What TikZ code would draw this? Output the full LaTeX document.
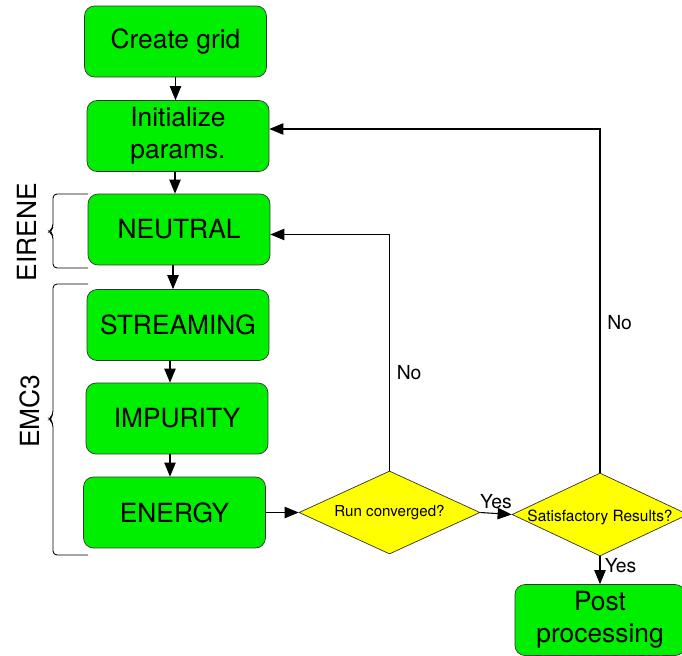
\documentclass[tikz,border=0pt]{standalone}
\usepackage{fontspec}
\setmainfont{TeX Gyre Heros}
\usetikzlibrary{shapes.geometric,arrows.meta}
\definecolor{boxgreen}{RGB}{0,238,0}
\definecolor{diayellow}{RGB}{255,255,0}
\tikzset{
  stepbox/.style={draw=black!80,fill=boxgreen,rounded corners=0.2cm,
    minimum width=3.64cm,minimum height=1.42cm,inner sep=0pt,align=center,
    font=\fontsize{15}{18}\selectfont},
  decision/.style={draw=black!80,fill=diayellow,diamond,inner sep=0pt},
  flow/.style={-{Triangle[length=8pt,width=6.5pt]},line width=0.6pt},
  lbl/.style={font=\fontsize{11}{13}\selectfont,inner sep=1pt}
}
\begin{document}
\begin{tikzpicture}[x=0.02cm,y=-0.02cm]
         \useasboundingbox (0,0) rectangle (682,655) ;
         % boxes
         \node[stepbox] (grid) at (175.5,41.5) {Create grid} ;
         \node[stepbox] (init) at (178,136) {Initialize\\params.} ;
         \node[stepbox] (neutral) at (179,229.5) {NEUTRAL} ;
         \node[stepbox] (stream) at (178,325) {STREAMING} ;
         \node[stepbox] (impur) at (177,418.5) {IMPURITY} ;
         \node[stepbox] (energy) at (174.5,512.5) {ENERGY} ;
         \node[stepbox,minimum width=3.4cm] (post) at (600,620) {Post\\processing} ;
         % decisions
         \node[decision,minimum width=3.62cm,minimum height=1.66cm,
               label={[font=\fontsize{8.6}{10}\selectfont]center:Run converged?}] (run) at (389.5,512.5) {} ;
         \node[decision,minimum width=3.52cm,minimum height=1.66cm,
               label={[font=\fontsize{8.8}{10}\selectfont,yshift=-0.05cm]center:Satisfactory Results?}] (sat) at (600,514.5) {} ;
         % arrows down the chain
         \draw[flow] (grid.south) -- (grid.south |- init.north) ;
         \draw[flow] (init.south -| 175,0) -- (175,0 |- neutral.north) ;
         \draw[flow] (neutral.south -| 173,0) -- (173,0 |- stream.north) ;
         \draw[flow] (stream.south -| 170,0) -- (170,0 |- impur.north) ;
         \draw[flow] (impur.south -| 170,0) -- (170,0 |- energy.north) ;
         \draw[flow] (energy.east) -- (run.west) ;
         \draw[flow] (run.east) -- (sat.west) node[lbl,midway,above,yshift=0.04cm] {Yes} ;
         \draw[flow] (sat.south) -- (post.north) node[lbl,pos=0.35,right,xshift=0.05cm] {Yes} ;
         % loops back
         \draw[flow] (run.north) |- ([yshift=-0.1cm]neutral.east) node[lbl,pos=0.207,right,xshift=0.1cm] {No} ;
         \draw[flow] (sat.north) |- ([yshift=0.14cm]init.east) node[lbl,pos=0.218,right,xshift=0.1cm] {No} ;
         % braces
         \draw[line width=0.5pt,rounded corners=0.08cm] (88,194) -| (53,228) -- (49,231.5) -- (53,235) |- (88,268) ;
         \draw[line width=0.5pt,rounded corners=0.08cm] (88,284) -| (53,415) -- (49,419) -- (53,423) |- (88,555) ;
         \node[rotate=90,font=\fontsize{15}{18}\selectfont] (eirene) at (27,232) {EIRENE} ;
         \node[rotate=90,font=\fontsize{15}{18}\selectfont] (emc) at (30,411) {EMC3} ;
\end{tikzpicture}
\end{document}
